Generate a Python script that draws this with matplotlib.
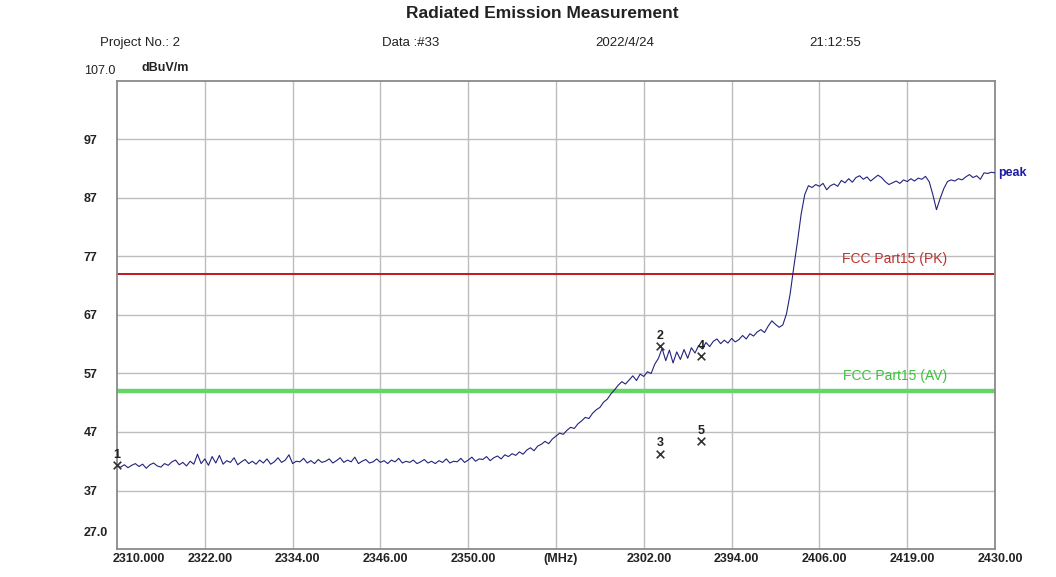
import matplotlib
matplotlib.use("Agg")
import matplotlib.pyplot as plt
import matplotlib.transforms as mtransforms
import numpy as np

# ---------------- data ----------------
freq_start = 2310.0
freq_step = 0.5
peak_values = [
    # 2310.0 - 2319.5
    41.2, 41.0, 41.4, 40.9, 41.3, 41.6, 41.1, 41.5, 40.8, 41.4,
    41.7, 41.2, 41.0, 41.6, 41.3, 41.9, 42.2, 41.4, 41.8, 41.2,
    # 2320.0 - 2329.5
    42.0, 41.5, 43.2, 41.6, 42.4, 41.3, 42.8, 41.7, 43.0, 41.5,
    42.1, 41.8, 42.6, 41.4, 41.9, 42.3, 41.6, 42.0, 41.5, 42.2,
    # 2330.0 - 2339.5
    41.7, 42.4, 41.5, 41.9, 42.6, 41.8, 42.2, 43.1, 41.6, 42.0,
    41.9, 42.5, 41.7, 42.1, 41.6, 42.3, 41.8, 42.0, 42.4, 41.7,
    # 2340.0 - 2349.5
    42.1, 42.6, 41.8, 42.2, 41.9, 42.7, 41.6, 42.0, 42.3, 41.7,
    41.9, 42.4, 41.8, 42.1, 41.6, 42.2, 41.9, 42.5, 41.7, 42.0,
    # 2350.0 - 2359.5
    41.8, 42.2, 41.6, 41.9, 42.3, 41.7, 42.0, 41.6, 42.1, 41.8,
    42.4, 41.7, 42.0, 41.9, 42.5, 41.8, 42.2, 42.7, 42.0, 42.4,
    # 2360.0 - 2369.5
    42.3, 42.8, 42.1, 42.6, 42.9, 42.4, 43.1, 42.8, 43.3, 43.0,
    43.6, 43.2, 43.9, 44.3, 43.8, 44.6, 44.9, 45.4, 45.0, 45.8,
    # 2370.0 - 2379.5
    46.3, 46.8, 46.6, 47.3, 47.8, 47.6, 48.4, 48.9, 49.5, 49.3,
    50.2, 50.8, 51.2, 52.1, 52.6, 53.5, 54.2, 55.0, 55.6, 55.2,
    # 2380.0 - 2389.5
    55.9, 56.6, 55.8, 56.9, 56.5, 57.3, 57.0, 58.6, 59.6, 61.3,
    59.2, 61.0, 58.8, 60.7, 59.4, 61.1, 59.6, 61.4, 60.5, 61.8,
    # 2390.0 - 2399.5
    61.2, 62.3, 61.6, 62.5, 62.9, 62.1, 62.7, 62.2, 63.0, 62.4,
    62.8, 63.5, 62.9, 63.8, 63.4, 64.1, 64.5, 64.0, 65.1, 66.0,
    # 2400.0 - 2409.5
    65.4, 64.9, 65.3, 67.2, 70.6, 75.2, 79.5, 84.2, 87.6, 89.1,
    88.8, 89.3, 89.0, 89.5, 88.4, 89.1, 89.4, 89.0, 90.0, 89.6,
    # 2410.0 - 2419.5
    90.3, 89.7, 90.5, 90.8, 90.2, 90.6, 89.9, 90.4, 90.9, 90.5,
    89.8, 89.3, 89.6, 89.9, 89.5, 90.1, 89.8, 90.3, 89.9, 90.4,
    # 2420.0 - 2429.5
    90.2, 90.7, 89.8, 87.6, 85.0, 86.9, 88.6, 89.8, 90.1, 89.9,
    90.3, 90.1, 90.6, 91.0, 90.5, 90.8, 90.2, 91.3, 91.2, 91.4,
    # 2430.0
    91.3,
]
frequencies = [freq_start + i * freq_step for i in range(len(peak_values))]

limit_pk = 74.0
limit_av = 54.0
limit_label_freq = 2416.3

marker_labels = ["1", "2", "3", "4", "5"]
marker_freqs = [2310.0, 2384.2, 2384.2, 2389.8, 2389.8]
marker_values = [41.4, 61.7, 43.3, 60.0, 45.5]

x_ticks = [2310, 2322, 2334, 2346, 2358, 2370, 2382, 2394, 2406, 2418, 2430]
x_tick_labels = ["2310.000", "2322.00", "2334.00", "2346.00", "2350.00", "(MHz)",
                 "2302.00", "2394.00", "2406.00", "2419.00", "2430.00"]
y_ticks = [37, 47, 57, 67, 77, 87, 97]
y_tick_labels = ["37", "47", "57", "67", "77", "87", "97"]
y_min, y_max = 27.0, 107.0

title = "Radiated Emission Measurement"
header = ["Project No.: 2", "Data :#33", "2022/4/24", "21:12:55"]

# ---------------- figure ----------------
FONT = ["Liberation Sans Narrow", "Liberation Sans", "DejaVu Sans"]
plt.rcParams["font.family"] = FONT

W, H = 1056, 577
fig = plt.figure(figsize=(W / 100, H / 100), dpi=100)
fig.patch.set_facecolor("white")

left, right, top, bottom = 117, 995, 81, 549
ax = fig.add_axes([left / W, 1 - bottom / H, (right - left) / W, (bottom - top) / H])
ax.set_xlim(2310, 2430)
ax.set_ylim(y_min, y_max)

# grid
for y in y_ticks:
    ax.axhline(y, color="#bdbdbd", lw=1.0, zorder=1)
for x in x_ticks[1:-1]:
    ax.axvline(x, color="#bdbdbd", lw=1.0, zorder=1)

for sp in ax.spines.values():
    sp.set_color("#8a8a8a")
    sp.set_linewidth(1.3)

# limit lines
ax.axhline(limit_pk, color="#c0181e", lw=1.4, zorder=2)
ax.axhline(limit_av, color="#66d466", lw=3.2, zorder=2)
ax.text(limit_label_freq, limit_pk + 1.3, "FCC Part15 (PK)", color="#c0302a", fontsize=10,
        ha="center", va="bottom", zorder=3)
ax.text(limit_label_freq, limit_av + 1.3, "FCC Part15 (AV)", color="#3ec03e", fontsize=10,
        ha="center", va="bottom", zorder=3)

# trace
ax.plot(frequencies, peak_values, color="#23237e", lw=0.8, zorder=4)
ax.text(1.004, (peak_values[-1] - y_min) / (y_max - y_min), "peak",
        transform=ax.transAxes, color="#1c1ca8", fontsize=9, fontweight="bold",
        ha="left", va="center", clip_on=False)

# markers
ax.scatter(marker_freqs, marker_values, marker="x", s=30, color="#333333",
           linewidths=1.2, zorder=5, clip_on=False)
for lab, fx, fy in zip(marker_labels, marker_freqs, marker_values):
    ax.annotate(lab, (fx, fy), xytext=(0, 3), textcoords="offset points",
                ha="center", va="bottom", fontsize=9, fontweight="bold",
                color="#222222", zorder=6, annotation_clip=False)

# ticks
ax.set_xticks(x_ticks)
ax.set_xticklabels(x_tick_labels, fontsize=9, fontweight="bold", color="#222222")
ax.set_yticks(y_ticks)
ax.set_yticklabels(y_tick_labels, fontsize=9, fontweight="bold", color="#222222")
ax.tick_params(axis="both", length=0)
ax.tick_params(axis="x", pad=3)
ax.tick_params(axis="y", pad=24)
for t in ax.get_yticklabels():
    t.set_ha("left")
for i, t in enumerate(ax.get_xticklabels()):
    dx = 22 if i == 0 else 5
    t.set_transform(t.get_transform() + mtransforms.ScaledTranslation(dx / 100, 0, fig.dpi_scale_trans))

# top/bottom extreme y labels
fig.text(84 / W, 1 - 71 / H, "107.0", fontsize=9, color="#222222", ha="left", va="center")
fig.text(142 / W, 1 - 68 / H, "dBuV/m", fontsize=9, fontweight="bold", color="#222222",
         ha="left", va="center")
fig.text(84 / W, 1 - 533 / H, "27.0", fontsize=9, fontweight="bold", color="#222222",
         ha="left", va="center")

# title & header
fig.text(542 / W, 1 - 14 / H, title, fontsize=12.5, fontweight="bold", color="#222222",
         ha="center", va="center", family=["Liberation Sans", "DejaVu Sans"])
for txt, xc in zip(header, [140, 411, 625, 835]):
    fig.text(xc / W, 1 - 43 / H, txt, fontsize=9.5, color="#222222", ha="center", va="center")

fig.savefig("out.png", dpi=100, facecolor="white")
